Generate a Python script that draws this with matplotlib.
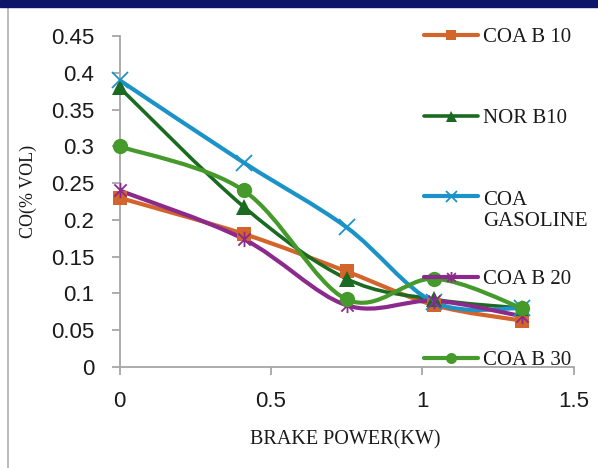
import numpy as np
import matplotlib
matplotlib.use('Agg')
from matplotlib import pyplot as plt
from matplotlib import patches
from matplotlib.path import Path
from matplotlib.lines import Line2D

# data
brake_power = [0, 0.41, 0.75, 1.04, 1.33]
coa_b10 = [0.23, 0.181, 0.13, 0.084, 0.063]
nor_b10 = [0.38, 0.218, 0.12, 0.092, 0.08]
coa_gasoline = [0.39, 0.278, 0.19, 0.088, 0.08]
coa_b20 = [0.24, 0.174, 0.084, 0.09, 0.069]
coa_b30 = [0.30, 0.24, 0.092, 0.12, 0.08]
series_names = ['COA B 10', 'NOR B10', 'COA\nGASOLINE', 'COA B 20', 'COA B 30']
x_ticks = [0, 0.5, 1, 1.5]
x_tick_labels = ['0', '0.5', '1', '1.5']
y_ticks = [0, 0.05, 0.1, 0.15, 0.2, 0.25, 0.3, 0.35, 0.4, 0.45]
y_tick_labels = ['0', '0.05', '0.1', '0.15', '0.2', '0.25', '0.3', '0.35', '0.4', '0.45']

W, H = 598, 468
SERIF = 'Liberation Serif'
SANS = 'Liberation Sans'
AXIS_GRAY = '#A6A6A6'

# excel style star: an x with a vertical bar through it
star = Path([(-1, -1), (1, 1), (-1, 1), (1, -1), (0, -1.25), (0, 1.25)],
            [Path.MOVETO, Path.LINETO, Path.MOVETO, Path.LINETO, Path.MOVETO, Path.LINETO])

styles = [
    dict(color='#D2642C', marker='s', ms=10.5, lw=3.0),
    dict(color='#1B6A22', marker='^', ms=11, lw=2.6),
    dict(color='#1B93C7', marker='x', ms=11, lw=3.0),
    dict(color='#8B2A8C', marker=star, ms=11, lw=3.0),
    dict(color='#459A2B', marker='o', ms=11, lw=3.0),
]


def px(x, y):
    # pixel position (from top-left) -> figure fraction
    return x / W, 1 - y / H


def smooth_path(xs, ys):
    # excel-like smoothed line: bezier segments through each point
    pts = np.column_stack([xs, ys]).astype(float)
    n = len(pts)
    verts = [pts[0]]
    codes = [Path.MOVETO]
    for i in range(n - 1):
        p0 = pts[max(i - 1, 0)]
        p1 = pts[i]
        p2 = pts[i + 1]
        p3 = pts[min(i + 2, n - 1)]
        verts += [p1 + (p2 - p0) / 6, p2 - (p3 - p1) / 6, p2]
        codes += [Path.CURVE4] * 3
    return Path(verts, codes)


def marker_kw(st, scale=1.0):
    kw = dict(marker=st['marker'], markersize=st['ms'] * scale, color=st['color'])
    if st['marker'] in ('s', '^', 'o'):
        kw.update(markeredgewidth=0, markerfacecolor=st['color'])
    else:
        kw.update(markeredgewidth=1.3, markerfacecolor='none')
    return kw


fig = plt.figure(figsize=(W / 100, H / 100), dpi=100)
x0, y0 = px(119.5, 367)
x1, y1 = px(573.5, 36)
ax = fig.add_axes([x0, y0, x1 - x0, y1 - y0])

all_series = [coa_b10, nor_b10, coa_gasoline, coa_b20, coa_b30]
for vals, st in zip(all_series, styles):
    ax.add_patch(patches.PathPatch(smooth_path(brake_power, vals), fill=False,
                                   edgecolor=st['color'], lw=st['lw'],
                                   capstyle='round', joinstyle='round'))
    ax.plot(brake_power, vals, linestyle='none', clip_on=False, zorder=3, **marker_kw(st))

ax.set_xlim(0, 1.5)
ax.set_ylim(0, 0.45)
ax.set_xticks(x_ticks)
ax.set_xticklabels(x_tick_labels)
ax.set_yticks(y_ticks)
ax.set_yticklabels(y_tick_labels)
for s in ['top', 'right']:
    ax.spines[s].set_visible(False)
for s in ['left', 'bottom']:
    ax.spines[s].set_color(AXIS_GRAY)
    ax.spines[s].set_linewidth(1.3)
ax.tick_params(direction='out', length=6, width=1.3, color=AXIS_GRAY,
               labelsize=16, labelcolor='#1a1a1a')
ax.tick_params(axis='x', pad=11)
ax.tick_params(axis='y', pad=12)
for lab in ax.get_xticklabels() + ax.get_yticklabels():
    lab.set_family(SANS)

ax.set_xlabel('BRAKE POWER(KW)', family=SERIF, fontsize=14.5, color='#1a1a1a')
ax.set_ylabel('CO(% VOL)', family=SERIF, fontsize=13, color='#1a1a1a')
ax.xaxis.set_label_coords(0.497, -0.19)
ax.yaxis.set_label_coords(-0.182, 0.529)

# legend, drawn by hand so entries sit far apart like the original
for i, (name, st) in enumerate(zip(series_names, styles)):
    ly = 35 + 80.7 * i
    fa, fb = px(424, ly)
    fc, _ = px(478, ly)
    fig.add_artist(Line2D([fa, fc], [fb, fb], transform=fig.transFigure,
                          color=st['color'], lw=st['lw'], solid_capstyle='round'))
    fm, _ = px(451, ly)
    fig.add_artist(Line2D([fm], [fb], transform=fig.transFigure,
                          linestyle='none', **marker_kw(st, 0.72)))
    extra_lines = name.count('\n')
    tx, ty = px(483, ly + 7 + 23 * extra_lines)
    fig.text(tx, ty, name, family=SERIF, fontsize=15, color='#1a1a1a',
             va='baseline', ha='left', linespacing=1.15)

# dark band at the top and the thin border on the left
bx, by = px(0, 7)
fig.add_artist(patches.Rectangle((0, by), 1, 1 - by, transform=fig.transFigure,
                                 color='#0D1568', zorder=5))
lx, _ = px(8, 0)
fig.add_artist(Line2D([lx, lx], [0, by], transform=fig.transFigure,
                      color='#B0B0B0', lw=1.2))

fig.savefig('out.png', dpi=100)
